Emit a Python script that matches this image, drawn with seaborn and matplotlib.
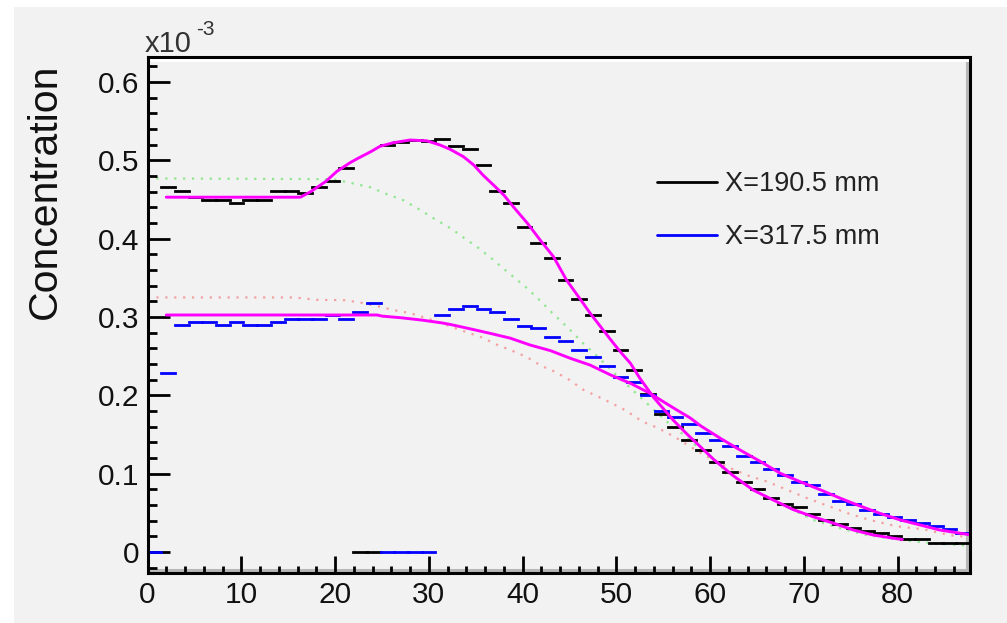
import numpy as np
import matplotlib
matplotlib.use("Agg")
import matplotlib.pyplot as plt
import matplotlib.transforms as mtransforms
from matplotlib.lines import Line2D
from matplotlib.patches import Rectangle
from matplotlib.ticker import MultipleLocator, FuncFormatter
import seaborn as sns
import pandas as pd

# concentration in units of 1e-3, one value per bin (60 bins of 1.462 mm)
n_bins = 60
bin_width = 1.462

black_hist = [0.0, 0.466, 0.461, 0.453, 0.449, 0.449, 0.446, 0.449, 0.449, 0.461,
              0.461, 0.458, 0.466, 0.474, 0.490, 0.0, 0.0, 0.520, 0.524, 0.526,
              0.525, 0.527, 0.518, 0.514, 0.494, 0.461, 0.445, 0.415, 0.395, 0.375,
              0.347, 0.323, 0.302, 0.282, 0.258, 0.233, 0.202, 0.176, 0.159, 0.143,
              0.130, 0.115, 0.102, 0.090, 0.081, 0.069, 0.061, 0.057, 0.049, 0.041,
              0.036, 0.031, 0.027, 0.024, 0.020, 0.016, 0.016, 0.012, 0.012, 0.012]

blue_hist = [0.0, 0.228, 0.290, 0.294, 0.294, 0.290, 0.294, 0.290, 0.290, 0.294,
             0.298, 0.298, 0.298, 0.302, 0.298, 0.306, 0.318, 0.0, 0.0, 0.0,
             0.0, 0.303, 0.310, 0.314, 0.310, 0.306, 0.298, 0.289, 0.286, 0.274,
             0.269, 0.258, 0.249, 0.237, 0.224, 0.217, 0.200, 0.180, 0.172, 0.163,
             0.152, 0.143, 0.135, 0.122, 0.115, 0.106, 0.098, 0.090, 0.085, 0.074,
             0.065, 0.061, 0.053, 0.049, 0.045, 0.041, 0.037, 0.033, 0.029, 0.024]

# fit curves (magenta)
black_fit_x = [2.0, 16.3, 17.4, 19.0, 20.2, 21.6, 22.5, 23.8, 24.8, 26.2, 28.0, 29.8,
               31.2, 32.3, 33.7, 34.8, 35.8, 36.9, 38.0, 39.0, 40.5, 41.9, 43.3, 44.7,
               46.2, 47.2, 48.3, 49.4, 50.4, 51.5, 52.5, 54.0, 56.1, 57.5, 59.0, 60.4,
               62.4, 64.6, 66.8, 68.9, 71.0, 73.2, 75.3, 77.4, 79.6, 80.5]
black_fit_y = [0.453, 0.453, 0.460, 0.473, 0.486, 0.497, 0.503, 0.511, 0.518, 0.5225, 0.526, 0.525,
               0.5196, 0.514, 0.5047, 0.494, 0.481, 0.4685, 0.4558, 0.441, 0.420, 0.398, 0.377, 0.347,
               0.322, 0.305, 0.288, 0.271, 0.256, 0.241, 0.222, 0.197, 0.168, 0.151, 0.134, 0.118,
               0.098, 0.079, 0.066, 0.054, 0.045, 0.0366, 0.028, 0.0217, 0.0175, 0.016]

blue_fit_x = [2.0, 24.5, 25.0, 27.1, 29.2, 31.4, 32.3, 34.4, 36.6, 38.7, 40.8, 43.0,
              45.1, 47.2, 49.4, 51.5, 53.6, 55.0, 56.5, 57.9, 59.0, 61.1, 63.2, 65.4,
              67.5, 69.6, 71.8, 73.9, 76.0, 78.1, 80.3, 82.4, 84.5, 86.7, 87.7]
blue_fit_y = [0.3026, 0.3026, 0.3012, 0.2990, 0.2962, 0.2925, 0.2905, 0.2850, 0.279, 0.273, 0.2643, 0.257,
              0.2473, 0.2387, 0.226, 0.2154, 0.2026, 0.192, 0.181, 0.171, 0.161, 0.1451, 0.1302, 0.1153,
              0.1004, 0.0898, 0.0792, 0.0686, 0.0587, 0.0494, 0.0409, 0.0345, 0.0281, 0.0239, 0.022]

# dotted model curves
green_x = [0.0, 19.8, 21.1, 23.8, 25.5, 27.3, 29.1, 30.7, 32.5, 34.1, 35.1, 36.9,
           38.7, 40.5, 42.1, 43.1, 44.9, 46.5, 47.6, 48.3, 49.4, 50.8, 51.8, 52.9,
           53.6, 55.4, 57.2, 59.0, 60.7, 62.5, 64.6, 66.8, 68.9, 71.0, 73.9, 76.7,
           80.3, 83.8, 87.7]
green_y = [0.477, 0.476, 0.4727, 0.4656, 0.457, 0.449, 0.4366, 0.4247, 0.412, 0.398, 0.390, 0.3728,
           0.3545, 0.3366, 0.3183, 0.306, 0.2856, 0.266, 0.254, 0.246, 0.233, 0.217, 0.206, 0.194,
           0.186, 0.1664, 0.1494, 0.1302, 0.1132, 0.0962, 0.0792, 0.0664, 0.0536, 0.0409, 0.0302, 0.0217,
           0.0153, 0.0111, 0.008]

red_x = [0.0, 15.7, 18.0, 21.1, 22.9, 24.5, 26.2, 28.0, 29.1, 30.9, 32.3, 34.2,
         35.9, 36.9, 38.7, 40.5, 42.1, 43.1, 44.9, 46.5, 48.3, 50.1, 51.1, 52.8,
         54.5, 56.3, 57.9, 59.7, 61.8, 64.1, 66.1, 68.6, 70.3, 72.1, 74.7, 77.0,
         79.9, 82.8, 84.6, 86.1, 87.7]
red_y = [0.325, 0.325, 0.322, 0.3215, 0.318, 0.314, 0.309, 0.305, 0.301, 0.294, 0.288, 0.280,
         0.273, 0.2664, 0.258, 0.2486, 0.237, 0.2323, 0.2205, 0.207, 0.197, 0.1864, 0.180, 0.1664,
         0.158, 0.1464, 0.1344, 0.1217, 0.1089, 0.0974, 0.0898, 0.0775, 0.069, 0.061, 0.0494, 0.041,
         0.0328, 0.029, 0.024, 0.0204, 0.0196]

legend_labels = ["X=190.5 mm", "X=317.5 mm"]
x_ticks = [0, 10, 20, 30, 40, 50, 60, 70, 80]

sns.set_style("ticks")
plt.rcParams['font.family'] = ['Liberation Sans', 'DejaVu Sans']

W, H = 1007, 623
bg = '#f2f2f2'
fig = plt.figure(figsize=(W / 100, H / 100), dpi=100, facecolor='white')
fig.patches.append(Rectangle((14 / W, 0), 1 - 14 / W, 1 - 7 / H, transform=fig.transFigure,
                             facecolor=bg, edgecolor='none', zorder=-10))
ax = fig.add_axes([147.5 / W, 50 / H, 822.5 / W, 516 / H])
ax.set_facecolor(bg)
ax.set_axisbelow(False)

edges = np.arange(n_bins + 1) * bin_width
ax.hlines(black_hist, edges[:-1], edges[1:], colors='black', lw=2, capstyle='projecting', zorder=3)
ax.hlines(blue_hist, edges[:-1], edges[1:], colors='#0000ff', lw=2, capstyle='projecting', zorder=3.1)

dot = (0, (1, 3))
sns.lineplot(data=pd.DataFrame({'x': green_x, 'y': green_y}), x='x', y='y', ax=ax,
             color='#8ee68e', lw=1.6, linestyle=dot, zorder=2)
sns.lineplot(data=pd.DataFrame({'x': red_x, 'y': red_y}), x='x', y='y', ax=ax,
             color='#f5a0a0', lw=1.6, linestyle=dot, zorder=2)
sns.lineplot(data=pd.DataFrame({'x': black_fit_x, 'y': black_fit_y}), x='x', y='y', ax=ax,
             color='#ff00ff', lw=2.1, zorder=4)
sns.lineplot(data=pd.DataFrame({'x': blue_fit_x, 'y': blue_fit_y}), x='x', y='y', ax=ax,
             color='#ff00ff', lw=2.1, zorder=4)

ax.set_xlim(0, n_bins * bin_width)
ax.set_ylim(-0.0268, 0.632)
ax.set_xlabel('')
ax.set_ylabel('')

ax.set_xticks(x_ticks)
ax.xaxis.set_minor_locator(MultipleLocator(2))
ax.yaxis.set_major_locator(MultipleLocator(0.1))
ax.yaxis.set_minor_locator(MultipleLocator(0.02))
ax.yaxis.set_major_formatter(FuncFormatter(lambda v, p: f'{round(v, 3):g}'))
ax.tick_params(axis='both', which='both', direction='in', width=2, color='black',
               bottom=True, left=True, top=False, right=False,
               labelsize=21.5, labelcolor='#111111')
ax.tick_params(axis='y', which='major', length=16, pad=6)
ax.tick_params(axis='y', which='minor', length=6.5)
ax.tick_params(axis='x', which='major', length=12, pad=6)
ax.tick_params(axis='x', which='minor', length=5)
for s in ax.spines.values():
    s.set_linewidth(2.2)
    s.set_color('black')
    s.set_zorder(6)

# bevel of the frame: grey inside bottom/right, white inside top
off_up = mtransforms.offset_copy(ax.transAxes, fig=fig, x=0, y=3, units='dots')
off_left = mtransforms.offset_copy(ax.transAxes, fig=fig, x=-3, y=0, units='dots')
off_down = mtransforms.offset_copy(ax.transAxes, fig=fig, x=0, y=-3, units='dots')
ax.plot([0, 1], [0, 0], transform=off_up, color='#b8b8b8', lw=2.2, clip_on=False, zorder=1.5)
ax.plot([1, 1], [0, 1], transform=off_left, color='#b8b8b8', lw=2.2, clip_on=False, zorder=1.5)
ax.plot([0, 1], [1, 1], transform=off_down, color='white', lw=2.2, clip_on=False, zorder=1.5)

handles = [Line2D([], [], color='black', lw=2), Line2D([], [], color='#0000ff', lw=2)]
fig.legend(handles, legend_labels, loc='upper left', bbox_to_anchor=(657 / W, 1 - 171 / H),
           frameon=False, fontsize=19.5, handlelength=2.2, handletextpad=0.3,
           labelspacing=1.0, borderpad=0, borderaxespad=0, labelcolor='#222222')

fig.text(45 / W, 1 - 191 / H, 'Concentration', rotation=90, ha='center', va='center',
         fontsize=29.5, color='#111111')
fig.text(145 / W, 1 - 52 / H, 'x10', ha='left', va='baseline', fontsize=21, color='#333333')
fig.text(196 / W, 1 - 35 / H, '-3', ha='left', va='baseline', fontsize=15, color='#333333')

fig.savefig('out.png', dpi=100, facecolor=fig.get_facecolor())
